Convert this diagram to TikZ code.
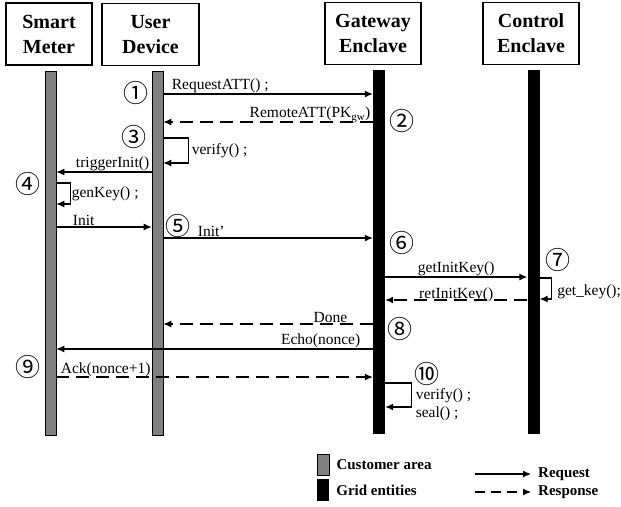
\documentclass[tikz,border=0pt]{standalone}
\usepackage{fontspec}
\setmainfont{Liberation Serif}
\newfontfamily\circfont{Noto Sans CJK SC}
\usetikzlibrary{arrows.meta,positioning}

\tikzset{
  actor/.style={draw, line width=1.6pt, minimum height=62pt, minimum width=#1, inner sep=0pt, align=center, font=\fontsize{20}{25}\selectfont\bfseries},
  custbar/.style={draw, line width=0.6pt, fill=gray, minimum width=11pt, inner sep=0pt},
  gridbar/.style={fill=black, minimum width=12pt, inner sep=0pt},
  msg/.style={font=\fontsize{15.5}{18}\selectfont, inner sep=1pt},
  stepnum/.style={font=\circfont\fontsize{25}{25}\selectfont, inner sep=0pt},
  legend/.style={font=\fontsize{15}{17}\selectfont\bfseries, inner sep=1pt},
  req/.style={->, line width=1.1pt},
  resp/.style={->, line width=1.1pt, dash pattern=on 13pt off 7pt},
}

\begin{document}
\begin{tikzpicture}[x=1pt, y=-1pt, >={Latex[length=8pt,width=7pt]}]
        \useasboundingbox (0,0) rectangle (621,506);

        % participants
        \node [actor=86pt] (sm) at (49,34) {Smart\\Meter};
        \node [actor=97pt] (ud) at (150.5,34.5) {User\\Device};
        \node [actor=96pt] (gw) at (373,33.5) {Gateway\\Enclave};
        \node [actor=96pt] (ce) at (531,33.5) {Control\\Enclave};

        % lifelines
        \node [custbar, anchor=north, minimum height=364pt] (smL) at (50.5,71) {};
        \node [custbar, anchor=north, minimum height=364pt] (udL) at (157.5,71) {};
        \node [gridbar, anchor=north, minimum height=364pt] (gwL) at (379,70) {};
        \node [gridbar, anchor=north, minimum height=364pt] (ceL) at (533.5,70) {};

        % steps
        \node [stepnum] (n1) at (136,93) {①};
        \node [stepnum] (n2) at (402,121) {②};
        \node [stepnum] (n3) at (134,137) {③};
        \node [stepnum] (n4) at (28,184) {④};
        \node [stepnum] (n5) at (178,226) {⑤};
        \node [stepnum] (n6) at (402,243) {⑥};
        \node [stepnum] (n7) at (558,260) {⑦};
        \node [stepnum] (n8) at (400,329) {⑧};
        \node [stepnum] (n9) at (28,367) {⑨};
        \node [stepnum] (n10) at (427,374) {⑩};

        % messages
        \draw [req] (udL.east |- 0,94) -- node[msg, pos=0, anchor=south west, xshift=7pt]{RequestATT() ;} (gwL.west |- 0,94);
        \draw [resp] (gwL.west |- 0,122) -- node[msg, pos=0, anchor=south east, xshift=-1pt, yshift=-2pt]{RemoteATT(PK$_{\mathrm{gw}}$)} (udL.east |- 0,122);
        \draw [req] (udL.east |- 0,138) -- ++(25,0) -- node[msg, right, xshift=2pt]{verify() ;} ++(0,25) -- (udL.east |- 0,163);
        \draw [req] (udL.west |- 0,172) -- node[msg, pos=0, anchor=south east, xshift=-1pt]{triggerInit()} (smL.east |- 0,172);
        \draw [req] (smL.east |- 0,183) -- ++(14,0) -- node[msg, right, xshift=0pt]{genKey() ;} ++(0,21) -- (smL.east |- 0,204);
        \draw [req] (smL.east |- 0,227) -- node[msg, pos=0, anchor=south west, xshift=15pt]{Init} (udL.west |- 0,227);
        \draw [req] (udL.east |- 0,238) -- node[msg, pos=0, anchor=south west, xshift=33pt]{Init’} (gwL.west |- 0,238);
        \draw [req] (gwL.east |- 0,277) -- node[msg, above]{getInitKey()} (ceL.west |- 0,277);
        \draw [req] (ceL.east |- 0,278) -- ++(12,0) -- node[msg, right, xshift=4pt, yshift=-3pt]{get\_key();} ++(0,21) -- (ceL.east |- 0,299);
        \draw [resp] (ceL.west |- 0,300) -- node[msg, above, yshift=-3pt]{retInitKey()} (gwL.east |- 0,300);
        \draw [resp] (gwL.west |- 0,324) -- node[msg, pos=0, anchor=south east, xshift=-24pt]{Done} (udL.east |- 0,324);
        \draw [req] (gwL.west |- 0,349) -- node[msg, pos=0, anchor=south east, xshift=-11pt]{Echo(nonce)} (smL.east |- 0,349);
        \draw [resp] (smL.east |- 0,377) -- node[msg, pos=0, anchor=south west, xshift=3pt, yshift=-1pt]{Ack(nonce+1)} (gwL.west |- 0,377);
        \draw [req] (gwL.east |- 0,383) -- ++(26,0) -- node[msg, right, align=left, xshift=3pt, yshift=-10pt]{verify() ;\\seal() ;} ++(0,24) -- (gwL.east |- 0,407);

        % legend
        \node [custbar, minimum width=12pt, minimum height=21pt] (keyC) at (323,464.5) {};
        \node [gridbar, minimum height=22pt] (keyG) at (323,490) {};
        \node [legend, right=6pt of keyC] (keyCT) {Customer area};
        \node [legend, right=6pt of keyG] (keyGT) {Grid entities};
        \node [legend, anchor=west] (reqT) at (537,474) {Request};
        \node [legend, anchor=west] (respT) at (537,492) {Response};
        \coordinate (reqS) at (475,474);
        \coordinate (respS) at (475,492);
        \draw [req, shorten >=6pt] (reqS) -- (reqT.west);
        \draw [resp, shorten >=6pt, dash pattern=on 10pt off 6pt] (respS) -- (respT.west);
\end{tikzpicture}
\end{document}
